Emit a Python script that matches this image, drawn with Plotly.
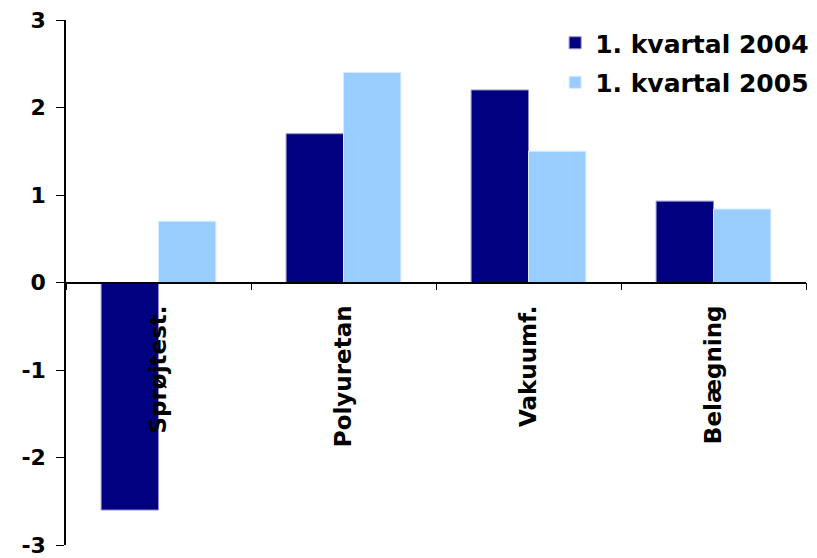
import plotly.graph_objects as go

categories = ["Sprøjtest.", "Polyuretan", "Vakuumf.", "Belægning"]
series_2004 = [-2.6, 1.7, 2.2, 0.93]
series_2005 = [0.7, 2.4, 1.5, 0.84]
series_names = ["1. kvartal 2004", "1. kvartal 2005"]
y_ticks = [-3, -2, -1, 0, 1, 2, 3]

FONT = "DejaVu Sans"

fig = go.Figure()
fig.add_trace(go.Bar(
    x=categories, y=series_2004, name=series_names[0], legendgroup="a",
    marker=dict(color="#000080", line=dict(color="#8c8cc8", width=1)),
))
fig.add_trace(go.Bar(
    x=categories, y=series_2005, name=series_names[1], legendgroup="b",
    marker=dict(color="#99CCFF", line=dict(color="#d6ebff", width=1)),
))

fig.update_layout(
    width=817, height=558,
    margin=dict(l=66, r=11, t=20, b=13, autoexpand=False),
    plot_bgcolor="white", paper_bgcolor="white",
    barmode="group", bargap=0.38, bargroupgap=0.0,
    font=dict(family=FONT, color="black"),
    showlegend=True,
    legend=dict(
        x=1.011, xanchor="right", y=1.0, yanchor="top",
        font=dict(family=FONT, size=25, weight="bold"),
        tracegroupgap=4, bgcolor="rgba(0,0,0,0)",
    ),
    yaxis=dict(
        range=[-3, 3], tickvals=y_ticks, ticktext=[str(v) for v in y_ticks],
        showline=True, linecolor="black", linewidth=1.5,
        ticks="outside", ticklen=8, tickcolor="black",
        showgrid=False, zeroline=False, automargin=False,
        tickfont=dict(family=FONT, size=22, weight="bold"),
        ticklabelstandoff=6, ticklabeloverflow="allow",
    ),
    xaxis=dict(
        anchor="free", position=0.5,
        showline=True, linecolor="black", linewidth=1.5,
        ticks="outside", ticklen=7, tickcolor="black", tickson="boundaries",
        tickangle=-90, showgrid=False, zeroline=False, automargin=False,
        tickfont=dict(family=FONT, size=23, weight="bold"),
        ticklabelstandoff=13,
    ),
)

fig.write_html(
    "out.html",
    config={"displayModeBar": False},
    post_script="document.body.style.margin='0';document.body.style.overflow='hidden';",
)
